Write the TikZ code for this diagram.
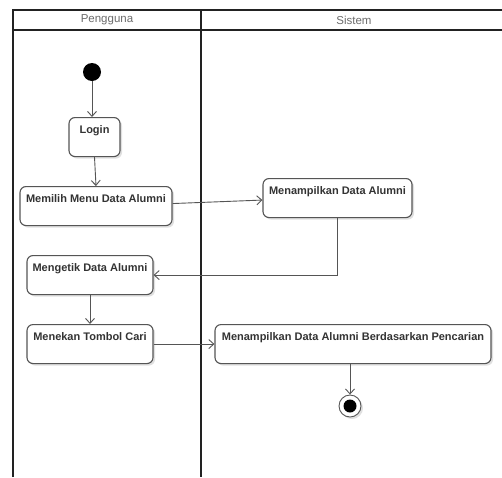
\documentclass[tikz,border=0pt]{standalone}
\usepackage{fontspec}
\setmainfont{Liberation Sans}
\usetikzlibrary{arrows.meta,shadows}
\definecolor{edge}{HTML}{555555}
\definecolor{ink}{HTML}{333333}
\definecolor{lane}{HTML}{222222}
\tikzset{
  action/.style={draw=edge, line width=1.1pt, rounded corners=6pt, fill=white,
    font=\fontsize{11}{13}\selectfont\bfseries, text=ink,
    inner xsep=1pt, inner ysep=0pt, text height=16pt, text depth=23pt,
    drop shadow={shadow xshift=2pt, shadow yshift=-2pt, opacity=0.12, fill=black}},
  flow/.style={draw=edge, line width=0.9pt, -{Straight Barb[length=5pt,width=9pt]}},
  laneline/.style={draw=lane, line width=1.6pt},
  lanetitle/.style={font=\fontsize{11.5}{13}\selectfont, text=gray!85!black},
}
\begin{document}
\begin{tikzpicture}[x=1pt,y=-1pt]
\useasboundingbox (0,0) rectangle (502,477);
\fill[white] (0,0) rectangle (502,477);

% swimlane frame
\draw[laneline] (13,477) -- (13,10) -- (503,10);
\draw[laneline] (13,30) -- (503,30);
\draw[laneline] (201,10) -- (201,477);
\node[lanetitle] (lanePengguna) at (107,20) {Pengguna};
\node[lanetitle] (laneSistem) at (354,20) {Sistem};

% initial and final states
\node[circle, fill=black, minimum size=18pt, inner sep=0pt] (start) at (92,72) {};
\node[circle, draw=edge, line width=0.9pt, fill=white, minimum size=22pt, inner sep=0pt,
  drop shadow={shadow xshift=2pt, shadow yshift=-2pt, opacity=0.12, fill=black}] (finish) at (350,406) {};
\node[circle, fill=black, minimum size=13pt, inner sep=0pt] (finishdot) at (finish) {};

% actions
\node[action, minimum width=51pt, anchor=north] (login) at (94.5,117) {Login};
\node[action, minimum width=152pt, anchor=north] (memilih) at (96,186) {Memilih Menu Data Alumni};
\node[action, minimum width=126pt, anchor=north] (mengetik) at (90,255) {Mengetik Data Alumni};
\node[action, minimum width=149pt, anchor=north] (tampil) at (337.5,178) {Menampilkan Data Alumni};
\node[action, minimum width=126pt, anchor=north] (menekan) at (90,324) {Menekan Tombol Cari};
\node[action, minimum width=276pt, anchor=north] (hasil) at (353,324) {Menampilkan Data Alumni Berdasarkan Pencarian};

% control flow
\draw[flow] (start) -- (start |- login.north);
\draw[flow] (login.south) -- (memilih.north);
\draw[flow] ([yshift=2.5pt]memilih.east) -- ([yshift=-2pt]tampil.west);
\draw[flow] (tampil.south) |- (mengetik.east);
\draw[flow] (mengetik.south) -- (menekan.north);
\draw[flow] (menekan.east) -- (hasil.west);
\draw[flow] (finish |- hasil.south) -- (finish.north);
\end{tikzpicture}
\end{document}
